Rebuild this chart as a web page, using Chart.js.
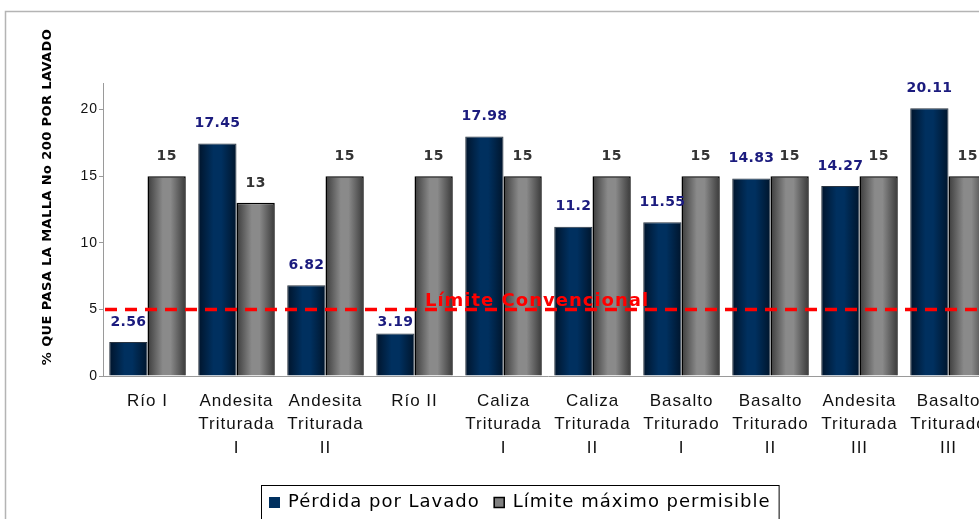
<!DOCTYPE html>
<html>
<head>
<meta charset="utf-8">
<script src="https://cdn.jsdelivr.net/npm/chart.js@4/dist/chart.umd.min.js"></script>
<style>
  html, body { margin: 0; padding: 0; background: #fff; }
  #wrap { width: 979px; height: 519px; overflow: hidden; position: relative; }
  #wrap canvas { position: absolute; left: 0; top: 0; }
</style>
</head>
<body>
<div id="wrap"><canvas id="chart" width="1040" height="535"></canvas></div>
<script>
const categories = [
  ['Río I'],
  ['Andesita', 'Triturada', 'I'],
  ['Andesita', 'Triturada', 'II'],
  ['Río II'],
  ['Caliza', 'Triturada', 'I'],
  ['Caliza', 'Triturada', 'II'],
  ['Basalto', 'Triturado', 'I'],
  ['Basalto', 'Triturado', 'II'],
  ['Andesita', 'Triturada', 'III'],
  ['Basalto', 'Triturado', 'III']
]
const perdida = [2.56, 17.45, 6.82, 3.19, 17.98, 11.2, 11.55, 14.83, 14.27, 20.11]
const limiteMaximo = [15, 13, 15, 15, 15, 15, 15, 15, 15, 15]
const limiteConvencional = 5
const yTicks = [0, 5, 10, 15, 20]

const catPct = 0.86
const legendSwatches = [
  { fill: '#00305f', stroke: '#00305f' },
  { fill: '#808080', stroke: '#000' }
]

// horizontal "cylinder" shading for each bar, located from the x scale
function barGradient(stops) {
  return function(context) {
    const chart = context.chart
    const xs = chart.scales.x
    if (!chart.chartArea || !xs || context.dataIndex === undefined) return stops[1]
    const center = xs.getPixelForValue(context.dataIndex)
    const bw = xs.width / categories.length * catPct / 2
    const left = context.datasetIndex === 0 ? center - bw : center
    const g = chart.ctx.createLinearGradient(left, 0, left + bw, 0)
    g.addColorStop(0, stops[0])
    g.addColorStop(0.4, stops[1])
    g.addColorStop(0.6, stops[1])
    g.addColorStop(1, stops[2])
    return g
  }
}

// the original text is drawn a little spaced out
const spacing = {
  id: 'spacing',
  beforeLayout(chart) { chart.ctx.letterSpacing = '1px' },
  beforeDraw(chart) { chart.ctx.letterSpacing = '1px' }
}

const frameAndTitle = {
  id: 'frameAndTitle',
  beforeDraw(chart) {
    const { ctx } = chart
    ctx.save()
    ctx.strokeStyle = '#b4b4b4'
    ctx.lineWidth = 1.5
    ctx.strokeRect(5.5, 11.5, 1100, 600)
    ctx.translate(48, 197)
    ctx.rotate(-Math.PI / 2)
    ctx.font = 'bold 13px "DejaVu Sans"'
    ctx.letterSpacing = '0.4px'
    ctx.fillStyle = '#000'
    ctx.textAlign = 'center'
    ctx.textBaseline = 'middle'
    ctx.fillText('% QUE PASA LA MALLA No 200 POR LAVADO', 0, 0)
    ctx.restore()
  },
  afterDraw(chart) {
    // legend, centred under the whole (wider than the window) chart
    const { ctx } = chart
    ctx.save()
    ctx.font = '18px "DejaVu Sans"'
    ctx.letterSpacing = '1px'
    ctx.textBaseline = 'middle'
    const names = chart.data.datasets.map(d => d.label)
    const widths = names.map(n => ctx.measureText(n).width)
    const total = 8 + widths.reduce((a, w) => a + 11 + 8 + w, 0) + 14 + 8
    const left = Math.round(520 - total / 2)
    const cy = 502
    ctx.strokeStyle = '#000'
    ctx.lineWidth = 1
    ctx.strokeRect(left + 0.5, 485.5, total, 60)
    let x = left + 8
    names.forEach((n, i) => {
      ctx.fillStyle = legendSwatches[i].fill
      ctx.fillRect(x, cy - 5, 11, 11)
      ctx.strokeStyle = legendSwatches[i].stroke
      ctx.lineWidth = i === 1 ? 1.5 : 1
      ctx.strokeRect(x + 0.5, cy - 4.5, 10, 10)
      x += 11 + 8
      ctx.fillStyle = '#000'
      ctx.fillText(n, x, cy)
      x += widths[i] + 14
    })
    ctx.restore()
  }
}

const valueLabels = {
  id: 'valueLabels',
  afterDatasetsDraw(chart) {
    const { ctx } = chart
    const ys = chart.scales.y
    const y = ys.getPixelForValue(limiteConvencional)
    ctx.save()
    ctx.font = 'bold 14px "DejaVu Sans"'
    ctx.letterSpacing = '0.3px'
    ctx.textAlign = 'center'
    ctx.textBaseline = 'middle'
    chart.data.datasets.forEach((ds, di) => {
      ctx.fillStyle = di === 0 ? '#1b1b7e' : '#333333'
      chart.getDatasetMeta(di).data.forEach((bar, i) => {
        let ly = bar.y - 20
        // keep labels off the dashed limit line
        if (Math.abs(ly - y) < 10) ly = y + 13
        ctx.fillText(String(ds.data[i]), bar.x, ly)
      })
    })
    // conventional limit line
    ctx.strokeStyle = '#ff0000'
    ctx.lineWidth = 3.5
    ctx.setLineDash([12, 8])
    ctx.beginPath()
    ctx.moveTo(chart.chartArea.left + 2, y)
    ctx.lineTo(chart.width, y)
    ctx.stroke()
    ctx.setLineDash([])
    ctx.fillStyle = '#ff0000'
    ctx.font = 'bold 18px "DejaVu Sans"'
    ctx.letterSpacing = '1px'
    ctx.textBaseline = 'alphabetic'
    ctx.fillText('Límite Convencional', 537, y - 3)
    ctx.restore()
  }
}

new Chart(document.getElementById('chart'), {
  type: 'bar',
  data: {
    labels: categories,
    datasets: [{
      label: 'Pérdida por Lavado',
      data: perdida,
      backgroundColor: barGradient(['#00142b', '#00305f', '#00152c']),
      borderColor: '#2a3440',
      borderWidth: 1,
      categoryPercentage: catPct,
      barPercentage: 1
    }, {
      label: 'Límite máximo permisible',
      data: limiteMaximo,
      backgroundColor: barGradient(['#3c3c3c', '#8a8a8a', '#3a3a3a']),
      borderColor: '#000',
      borderWidth: 1.5,
      categoryPercentage: catPct,
      barPercentage: 1
    }]
  },
  plugins: [spacing, frameAndTitle, valueLabels],
  options: {
    responsive: false,
    animation: false,
    layout: { padding: { left: 0, right: 47, top: 83, bottom: 53 } },
    plugins: {
      tooltip: { enabled: false },
      legend: { display: false }
    },
    scales: {
      x: {
        grid: { display: false },
        border: { display: true, color: '#9a9a9a', width: 1 },
        ticks: {
          color: '#111',
          font: { family: '"Liberation Sans"', size: 17, lineHeight: 1.4 },
          padding: 5,
          maxRotation: 0,
          autoSkip: false
        },
        afterFit(scale) { scale.height = 106 }
      },
      y: {
        min: 0,
        max: 22,
        afterBuildTicks(scale) { scale.ticks = yTicks.map(v => ({ value: v })) },
        grid: { display: true, drawOnChartArea: false, drawTicks: true, tickLength: 4, color: '#9a9a9a' },
        border: { display: true, color: '#9a9a9a', width: 1 },
        ticks: {
          color: '#111',
          font: { family: '"Liberation Sans"', size: 14 },
          padding: 1
        },
        afterFit(scale) { scale.width = 103 }
      }
    }
  }
})
</script>
</body>
</html>
